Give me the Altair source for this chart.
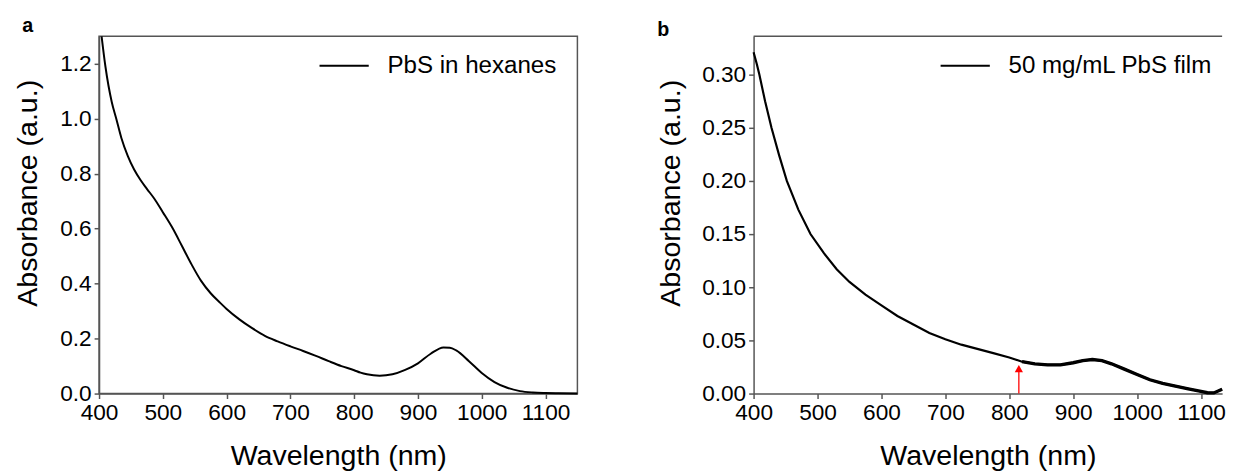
import altair as alt
import pandas as pd

# ---- data ----
a_wl = [404, 410, 420, 427, 435, 445, 455, 465, 475, 487, 500, 515, 530, 545,
        560, 575, 590, 600, 620, 640, 660, 680, 700, 720, 740, 760, 780, 800, 810,
        820, 840, 860, 880, 900, 920, 940, 950, 960, 980, 1000, 1020, 1040, 1060, 1080,
        1100, 1120, 1150]
a_abs = [1.30, 1.19, 1.06, 1.00, 0.93, 0.865, 0.815, 0.777, 0.745, 0.708, 0.66, 0.603, 0.537, 0.47,
         0.41, 0.365, 0.33, 0.308, 0.27, 0.238, 0.21, 0.19, 0.172, 0.155, 0.137, 0.118, 0.10, 0.085, 0.076,
         0.07, 0.065, 0.07, 0.086, 0.11, 0.145, 0.168, 0.167, 0.157, 0.118, 0.075, 0.042, 0.021, 0.009, 0.004,
         0.002, 0.001, 0.0]

b_wl = [400, 405, 409, 418, 428, 440, 452, 470, 489, 510, 530, 550, 575, 600, 625,
        650, 675, 700, 725, 750, 775, 800, 820, 840, 860, 880, 900, 915, 930, 945,
        960, 980, 1000, 1020, 1040, 1060, 1080, 1100, 1110, 1120, 1133]
b_abs = [0.321, 0.310, 0.300, 0.275, 0.250, 0.224, 0.200, 0.173, 0.150, 0.132, 0.117, 0.105, 0.093, 0.083, 0.073,
         0.065, 0.057, 0.051, 0.046, 0.042, 0.038, 0.034, 0.030, 0.028, 0.027, 0.027, 0.029, 0.031, 0.032, 0.031,
         0.028, 0.023, 0.018, 0.013, 0.0095, 0.007, 0.0045, 0.002, 0.0008, 0.0006, 0.004]

a_label = "PbS in hexanes"
b_label = "50 mg/mL PbS film"

x_ticks = [400, 500, 600, 700, 800, 900, 1000, 1100]
a_yticks = [0.0, 0.2, 0.4, 0.6, 0.8, 1.0, 1.2]
b_yticks = [0.00, 0.05, 0.10, 0.15, 0.20, 0.25, 0.30]

arrow_wl = [815]
arrow_base = [0.0]
arrow_top = [0.021]
arrow_head = [0.0235]

FONT = "Liberation Sans"
W_A, W_B, H = 486, 476, 363

df_a = pd.DataFrame({"wl": a_wl, "abs": a_abs, "series": [a_label] * len(a_wl)})
df_b = pd.DataFrame({"wl": b_wl, "abs": b_abs, "series": [b_label] * len(b_wl)})
df_arrow = pd.DataFrame({"wl": arrow_wl, "y0": arrow_base, "y1": arrow_top, "yh": arrow_head})


def legend(x, y):
    return alt.Legend(orient="none", legendX=x, legendY=y, title=None,
                      symbolType="stroke", symbolSize=2500, symbolStrokeWidth=2,
                      labelFont=FONT, labelFontSize=24.5, labelColor="black",
                      labelOffset=18, labelLimit=0, padding=0)


def x_axis():
    return alt.Axis(values=x_ticks, format="d", titlePadding=18, labelFlush=False)


def y_axis(vals, fmt, tx):
    return alt.Axis(values=vals, format=fmt, titleAngle=270, labelFlush=False,
                    titleX=tx, titleY=159, titleAlign="center", titleBaseline="middle")


def panel_title(txt, dx):
    return alt.TitleParams(txt, anchor="start", frame="group", dx=dx, fontSize=20,
                           fontWeight="bold", font=FONT, offset=-24, baseline="bottom", color="black")


chart_a = alt.Chart(df_a).mark_line(strokeWidth=2, interpolate="monotone").encode(
    x=alt.X("wl:Q", title="Wavelength (nm)",
            scale=alt.Scale(domain=[400, 1150], nice=False, zero=False), axis=x_axis()),
    y=alt.Y("abs:Q", title="Absorbance (a.u.)",
            scale=alt.Scale(domain=[0, 1.3], nice=False), axis=y_axis(a_yticks, ".1f", -73)),
    color=alt.Color("series:N", scale=alt.Scale(range=["black"]), legend=legend(223, 4)),
).properties(width=W_A, height=H, title=panel_title("a", -78))

xb = alt.X("wl:Q", title="Wavelength (nm)",
           scale=alt.Scale(domain=[400, 1133], nice=False, zero=False), axis=x_axis())
yb = alt.Y("abs:Q", title="Absorbance (a.u.)",
           scale=alt.Scale(domain=[0, 0.336], nice=False), axis=y_axis(b_yticks, ".2f", -84))

line_b = alt.Chart(df_b).mark_line(strokeWidth=2.2).encode(
    x=xb, y=yb,
    color=alt.Color("series:N", scale=alt.Scale(range=["black"]), legend=legend(189, 4)),
)
# noisier (thicker-looking) tail of the film spectrum
line_b_tail = alt.Chart(df_b).transform_filter("datum.wl >= 820").mark_line(
    strokeWidth=3.4, color="black").encode(x="wl:Q", y="abs:Q")
arrow_line = alt.Chart(df_arrow).mark_rule(color="#ff0000", strokeWidth=1.3).encode(
    x="wl:Q", y="y0:Q", y2="y1:Q")
arrow_head_mark = alt.Chart(df_arrow).mark_point(shape="triangle-up", filled=True, color="#ff0000",
                                                 size=70, opacity=1).encode(x="wl:Q", y="yh:Q")
top_border = alt.Chart(df_arrow).mark_rule(color="#555555", strokeWidth=1.5).encode(
    x=alt.value(0), x2=alt.value(W_B), y=alt.value(0))

chart_b = alt.layer(line_b, line_b_tail, arrow_line, arrow_head_mark, top_border).properties(
    width=W_B, height=H,
    view=alt.ViewBackground(strokeOpacity=0),
    title=panel_title("b", -98),
)

chart = alt.hconcat(chart_a, chart_b, spacing=76).resolve_scale(color="independent").configure(
    padding={"left": 4.5, "top": 4, "right": 0, "bottom": 0},
    font=FONT,
).configure_view(
    stroke="#555555", strokeWidth=1.5,
).configure_axis(
    grid=False, domainColor="#555555", domainWidth=1.5, tickColor="#555555", tickWidth=1.5,
    tickSize=5, labelFont=FONT, labelFontSize=23, labelColor="black", labelPadding=3,
    titleFont=FONT, titleFontSize=29, titleFontWeight="normal", titleColor="black",
)

chart.save("out.html", embed_options={"renderer": "svg", "actions": False})
